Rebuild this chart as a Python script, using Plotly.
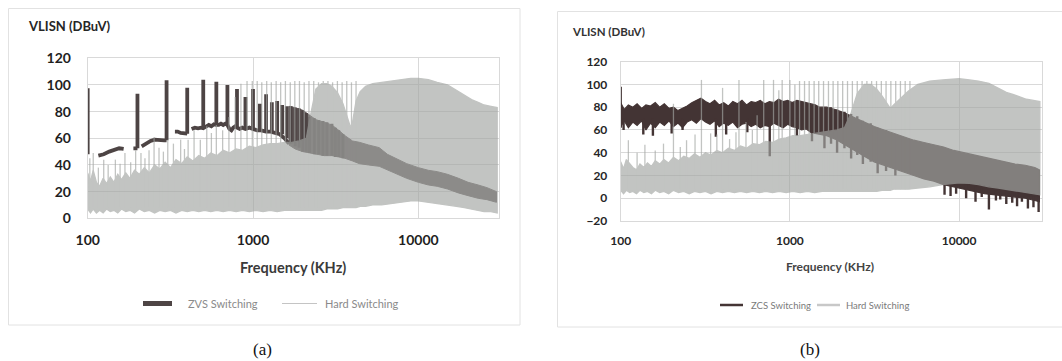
import plotly.graph_objects as go

# figure fills the whole 1062x361 window; the page body margin is removed after plotting
W, H = 1062, 361

# ---------------- Panel (a) data ----------------
HARD_A_F = [100, 104, 108, 113, 118, 124, 130, 137, 144, 152, 160, 170, 180, 192, 205, 220, 236, 254, 273, 294,
            317, 342, 370, 400, 433, 470, 510, 555, 605, 660, 720, 790, 865, 950, 1040, 1150, 1270, 1400, 1550,
            1720, 1900, 2100, 2250, 2400, 2600, 2800, 3000, 3250, 3500, 3700, 3850, 3950, 4050, 4200, 4450, 4800,
            5300, 6000, 7000, 8000, 9000, 10000, 11500, 13000, 15000, 17000, 19000, 21000, 23000, 25000, 27500, 30000]
HARD_A_HI = [34, 28, 36, 27, 24, 30, 26, 31, 27, 33, 29, 34, 30, 36, 33, 38, 34, 40, 37, 42,
             38, 44, 41, 46, 43, 47, 45, 49, 47, 51, 49, 52, 51, 54, 53, 55, 56, 56, 57,
             57, 58, 60, 80, 97, 101, 101, 99, 94, 86, 77, 70, 68, 75, 88, 95, 99,
             101, 102, 103, 104, 105, 105, 104, 102, 100, 96, 92, 89, 87, 85, 84, 83]
HARD_A_LO = [7, 4, 7, 4, 6, 4, 7, 5, 6, 4, 7, 5, 6, 4, 7, 5, 6, 4, 6, 5,
             6, 4, 6, 5, 6, 5, 6, 5, 6, 5, 6, 5, 6, 5, 6, 5, 6, 5, 6,
             6, 6, 6, 6, 6, 6, 7, 7, 7, 8, 8, 8, 8, 8, 8, 9, 9,
             10, 10, 11, 12, 13, 13, 12, 11, 10, 9, 8, 7, 6, 5, 5, 4]
HARD_A_SPK_F = [103, 108, 116, 125, 133, 147, 157, 168, 182, 195, 210, 222, 235, 252, 270, 287, 305, 330, 365,
                385, 405, 440, 480, 525, 560, 600, 655,
                715, 780, 845, 920, 990, 1060, 1130, 1210, 1290, 1380, 1470, 1570, 1680, 1790, 1910, 2040,
                2180, 2330, 2490, 2660, 2840, 3030, 3240, 3460, 3690, 3940, 4200]
HARD_A_SPK_TOP = [45, 49, 38, 44, 40, 44, 41, 49, 42, 51, 49, 45, 51, 61, 53, 50, 59, 56, 59,
                  52, 59, 66, 59, 69, 64, 70, 66,
                  76, 91, 101, 103, 103, 103, 102, 103, 102, 103, 102, 103, 102, 103, 103, 102,
                  103, 103, 102, 103, 103, 102, 103, 102, 103, 102, 103]
HARD_SPK_BASE = 8

ZVS_A_FLOOR_F = [116, 125, 135, 145, 155, 165, None, 189, 200, None, 212, 225, 240, 254, 270, 290, 300, None,
                 337, 350, 365, 382, 400, None, 425, 445, 465, 485, 500, 520, 540, 560, 580, 600, 620, 640, 660,
                 680, 700, 720, 740, 760, 780, 800, 830, 860, 900, 950, 1000, 1060, 1120, 1200, 1280, 1360,
                 1450, 1550, 1650]
ZVS_A_FLOOR_V = [47, 48, 50, 51.5, 52.5, 52, None, 52.5, 52.5, None, 54, 56, 58, 59, 58.5, 58.5, 58.5, None,
                 65, 65, 64, 63.5, 63.5, None, 67, 68, 67.5, 68, 67.5, 69, 70, 69, 70.5, 70, 70, 71, 70,
                 71, 70, 67, 66, 68, 69, 68, 67, 68, 67, 68, 67, 66, 66, 65, 65, 64,
                 63, 60, 56]
ZVS_A_SPK_F = [100, 200, 300, 400, 500, 600, 700, 800, 900, 1000, 1100, 1200, 1300, 1400, 1500, 1600]
ZVS_A_SPK_TOP = [97.5, 93.5, 103.5, 98, 104, 102.5, 100, 97, 91, 97, 86, 93, 87, 88, 85, 84]
ZVS_A_SPK_BASE = [48, 52.5, 58.5, 63.5, 67.5, 70, 70, 68, 67, 67, 66, 65, 64, 64, 63, 60]
ZVS_A_BAND_F = [1650, 1800, 2000, 2200, 2400, 2700, 3000, 3300, 3600, 4000, 4400, 5000, 5800, 6500, 7500,
                8500, 10000, 11500, 13000, 15000, 17500, 20000, 23000, 26000, 29700]
ZVS_A_BAND_HI = [84, 83, 81, 77, 74, 72, 70, 66, 62, 58, 57, 55, 53, 48, 44, 41, 38, 36, 35, 33, 30, 27, 25, 23, 20]
ZVS_A_BAND_LO = [55, 52, 50, 49, 48, 47, 47, 46, 45, 43, 41, 40, 39, 36, 33, 30, 27, 25, 24, 22, 19, 17, 15, 14, 12]
ZVS_A_COMB_F = [1700, 1800, 1900, 2000, 2100, 2200, 2350, 2500, 2650, 2800, 3000, 3150, 3300, 3500]
ZVS_A_COMB_TOP = [84, 83, 82.5, 81, 79, 76, 75, 73.5, 73, 72, 71, 68, 66, 63]
ZVS_A_COMB_LO = [56, 54, 53, 50, 50, 49, 48, 48, 47, 47, 47, 46, 46, 45]

# ---------------- Panel (b) data ----------------
HARD_B_F = [100, 104, 108, 113, 118, 124, 130, 137, 144, 152, 160, 170, 180, 192, 205, 220, 236, 254, 273, 294,
            317, 342, 370, 400, 433, 470, 510, 555, 605, 660, 720, 790, 865, 950, 1040, 1150, 1270, 1400, 1550,
            1720, 1900, 2100, 2300, 2500, 2750, 3000, 3250, 3500, 3750, 3920, 4100, 4500, 5000, 5700, 6700,
            8000, 10000, 11500, 13000, 15000, 17000, 19000, 21000, 23000, 25000, 27500, 30000]
HARD_B_HI = [32, 26, 34, 30, 27, 25, 30, 27, 31, 28, 33, 30, 34, 31, 36, 33, 37, 35, 39, 36,
             40, 38, 42, 40, 44, 42, 46, 44, 48, 47, 50, 49, 52, 53, 55, 55, 56, 57, 58,
             59, 60, 62, 75, 92, 100, 100, 96, 90, 83, 79, 82, 88, 94, 100, 103,
             104, 105, 104, 103, 101, 97, 93, 91, 89, 87, 86, 85]
HARD_B_LO = [7, 4, 7, 5, 6, 4, 7, 5, 6, 4, 7, 5, 6, 4, 7, 5, 6, 4, 6, 5,
             6, 4, 6, 5, 6, 5, 6, 5, 6, 5, 6, 5, 6, 5, 6, 5, 6, 5, 6,
             6, 6, 6, 6, 6, 6, 6, 6, 7, 7, 7, 8, 8, 8, 9, 10,
             12, 13.5, 13, 12, 10, 9, 8, 7, 6, 5, 4, 3]
HARD_B_SPK_F = [111, 125, 139, 160, 179, 205, 225, 245, 275, 300, 340, 370, 400, 440, 480, 500, 550, 600, 640,
                700, 800, 860, 900, 1000, 1070, 1140, 1220, 1300, 1390, 1480, 1580, 1690, 1800, 1920, 2050,
                2190, 2340, 2500, 2670, 2850, 3040, 3250, 3470, 3700, 3950, 4220, 4500, 4800, 5120]
HARD_B_SPK_TOP = [51, 40, 47, 42, 48, 83, 45, 51, 56, 104, 57, 56, 97, 52, 58, 104, 67, 60, 73,
                  104, 104, 95, 104, 104, 100, 103, 103, 103, 103, 103, 103, 103, 103, 103, 103,
                  103, 103, 103, 103, 103, 103, 103, 103, 103, 103, 103, 103, 103, 103]

ZCS_B_F = [100, 105, 111, 118, 125, 133, 141, 150, 160, 170, 181, 193, 205, 218, 232, 247, 263, 280, 298, 317,
           337, 359, 382, 406, 432, 460, 490, 521, 554, 590, 628, 668, 711, 757, 805, 857, 912, 970, 1032, 1100,
           1170, 1245, 1325, 1410, 1500, 1650, 1850, 2100, 2400, 2750, 3150, 3600, 4100, 4700, 5400, 6200,
           7100, 8100, 9300, 10700, 12300, 14100, 16200, 18600, 21400, 24600, 28000, 29800]
ZCS_B_HI = [84, 78, 82, 80, 83, 79, 82, 81, 84, 80, 83, 79, 80, 77, 79, 81, 84, 86, 88, 85,
            83, 86, 82, 84, 81, 85, 83, 86, 82, 85, 84, 86, 83, 85, 84, 87, 85, 86, 84, 86,
            85, 84, 83, 82, 80, 80, 78, 75, 71, 67, 63, 60, 57, 54, 51, 49,
            47, 45, 42, 40, 38, 36, 34, 32, 30, 29, 27, 25]
ZCS_B_LO = [63, 68, 62, 67, 64, 68, 60, 66, 62, 67, 64, 68, 63, 66, 62, 67, 69, 66, 70, 67,
            65, 68, 63, 66, 64, 67, 62, 65, 66, 63, 65, 62, 64, 63, 66, 64, 62, 65, 63, 62,
            60, 61, 58, 57, 56, 55, 52, 47, 42, 37, 32, 29, 26, 23, 20, 17,
            15, 12, 10, 8, 6, 4, 3, 2, 1, 0, -2, -3]
ZCS_B_LINE_F = [100, 104, 136, 155, 200, 232, 365, 420, 560, 760, 1100, 1350, 1600, 1750, 1900, 2100, 2300,
                2500, 2700, 3000, 3300, 3700, 4200, 8200, 8900, 9600, 11000, 12500, 13600, 15000, 16500, 17500,
                19000, 20600, 22000, 23500, 25500, 27500, 29500]
ZCS_B_LINE_LO = [62, 60, 56, 55, 57, 60, 54, 56, 58, 37, 55, 50, 44, 48, 40, 44, 35,
                 38, 30, 32, 22, 24, 20, 3, 2, 4, 0, -3, 1, -10, -2, -1,
                 -5, -4, -7, -3, -9, -8, -12]
ZCS_B_LINE_HI = [98, 70, 70, 70, 70, 70, 70, 70, 70, 70, 70, 70, 80, 80, 78, 76, 74,
                 72, 68, 66, 62, 60, 56, 15, 15, 14, 12, 10, 9, 8, 7, 6,
                 6, 5, 5, 4, 3, 2, 1]

X_TICKS = [100, 1000, 10000]
Y_TICKS_A = [0, 20, 40, 60, 80, 100, 120]
Y_TICKS_B = [-20, 0, 20, 40, 60, 80, 100, 120]

# ---------------- styles ----------------
HARD_COLOR = "rgb(163,166,163)"
HARD_OPACITY = 0.66
ZVS_COLOR = "rgb(78,69,69)"
ZVS_BAND_COLOR = "rgb(98,89,89)"
ZCS_COLOR = "rgb(68,53,53)"
GRID = "#d9d9d9"


def band_poly(f, hi, lo):
    return list(f) + list(f)[::-1] + [f[0]], list(hi) + list(lo)[::-1] + [hi[0]]


def vlines(fs, lo, hi):
    xs, ys = [], []
    for i, f in enumerate(fs):
        b = lo[i] if isinstance(lo, list) else lo
        xs += [f, f, None]
        ys += [b, hi[i], None]
    return xs, ys


def fx(p):  # page pixel -> paper fraction
    return p / W


def fy(p):
    return 1 - p / H


fig = go.Figure()

# ---- panel (a): ZVS (dark) first ----
bx, by = band_poly(ZVS_A_BAND_F, ZVS_A_BAND_HI, ZVS_A_BAND_LO)
fig.add_trace(go.Scatter(x=bx, y=by, mode="lines", fill="toself", fillcolor=ZVS_BAND_COLOR,
                         line=dict(color=ZVS_BAND_COLOR, width=1), xaxis="x", yaxis="y",
                         hoverinfo="skip", showlegend=False))
cx, cy = vlines(ZVS_A_COMB_F, ZVS_A_COMB_LO, ZVS_A_COMB_TOP)
fig.add_trace(go.Scatter(x=cx, y=cy, mode="lines", line=dict(color=ZVS_COLOR, width=3),
                         xaxis="x", yaxis="y", hoverinfo="skip", showlegend=False))
sx, sy = vlines(ZVS_A_SPK_F, ZVS_A_SPK_BASE, ZVS_A_SPK_TOP)
fig.add_trace(go.Scatter(x=ZVS_A_FLOOR_F + [None] + sx, y=ZVS_A_FLOOR_V + [None] + sy, mode="lines",
                         line=dict(color=ZVS_COLOR, width=3.8), xaxis="x", yaxis="y",
                         name="ZVS Switching", showlegend=False))
# ---- panel (a): hard switching (gray, on top, translucent) ----
px_, py_ = band_poly(HARD_A_F, HARD_A_HI, HARD_A_LO)
hx, hy = vlines(HARD_A_SPK_F, HARD_SPK_BASE, HARD_A_SPK_TOP)
fig.add_trace(go.Scatter(x=px_ + [None] + hx, y=py_ + [None] + hy, mode="lines", fill="toself",
                         fillcolor=HARD_COLOR, line=dict(color=HARD_COLOR, width=1.3), opacity=HARD_OPACITY,
                         xaxis="x", yaxis="y", name="Hard Switching", showlegend=False))

# ---- panel (b): ZCS (dark) ----
bx, by = band_poly(ZCS_B_F, ZCS_B_HI, ZCS_B_LO)
fig.add_trace(go.Scatter(x=bx, y=by, mode="lines", fill="toself", fillcolor=ZCS_COLOR,
                         line=dict(color=ZCS_COLOR, width=1.2), xaxis="x2", yaxis="y2",
                         name="ZCS Switching", showlegend=False))
lx, ly = vlines(ZCS_B_LINE_F, ZCS_B_LINE_LO, ZCS_B_LINE_HI)
fig.add_trace(go.Scatter(x=lx, y=ly, mode="lines", line=dict(color=ZCS_COLOR, width=2.4),
                         xaxis="x2", yaxis="y2", hoverinfo="skip", showlegend=False))
px_, py_ = band_poly(HARD_B_F, HARD_B_HI, HARD_B_LO)
hx, hy = vlines(HARD_B_SPK_F, HARD_SPK_BASE, HARD_B_SPK_TOP)
fig.add_trace(go.Scatter(x=px_ + [None] + hx, y=py_ + [None] + hy, mode="lines", fill="toself",
                         fillcolor=HARD_COLOR, line=dict(color=HARD_COLOR, width=1.3), opacity=HARD_OPACITY,
                         xaxis="x2", yaxis="y2", name="Hard Switching", showlegend=False))

axis_common = dict(type="log", range=[2, 4.488], tickvals=X_TICKS, ticktext=[str(v) for v in X_TICKS],
                   showgrid=True, gridcolor=GRID, gridwidth=1, showline=True, linecolor=GRID, mirror=True,
                   zeroline=False, ticks="", automargin=False)
yaxis_common = dict(showgrid=True, gridcolor=GRID, gridwidth=1, showline=True, linecolor=GRID, mirror=True,
                    zeroline=False, ticks="", automargin=False)

fig.update_layout(
    template="none",
    width=W, height=H, autosize=False,
    margin=dict(l=0, r=0, t=0, b=0, pad=0),
    paper_bgcolor="white", plot_bgcolor="white",
    showlegend=False,
    xaxis=dict(axis_common, domain=[fx(87.7), fx(499)], anchor="y", ticklabelstandoff=9,
               tickfont=dict(family="Lato", size=14, color="#1f1f1f", weight="bold")),
    yaxis=dict(yaxis_common, domain=[fy(218.3), fy(58.3)], range=[0, 120], tickvals=Y_TICKS_A, anchor="x",
               ticklabelstandoff=13, tickfont=dict(family="Lato", size=14, color="#1f1f1f", weight="bold")),
    xaxis2=dict(axis_common, domain=[fx(620.7), fx(1041.7)], anchor="y2", ticklabelstandoff=9,
                tickfont=dict(family="Lato", size=12, color="#262626", weight="bold")),
    yaxis2=dict(yaxis_common, domain=[fy(221), fy(61.7)], range=[-20, 120], tickvals=Y_TICKS_B, anchor="x2",
                ticklabelstandoff=10, tickfont=dict(family="Lato", size=12, color="#262626", weight="bold")),
)

# panel frames
fig.add_shape(type="rect", xref="paper", yref="paper", x0=fx(8.5), x1=fx(520), y0=fy(325), y1=fy(8.5),
              line=dict(color="#e2e2e2", width=1), layer="below")
fig.add_shape(type="rect", xref="paper", yref="paper", x0=fx(557.5), x1=fx(1080), y0=fy(327), y1=fy(11.5),
              line=dict(color="#e2e2e2", width=1), layer="below")


def ann(text, x, y, size, color="#333", xanchor="center", family="Lato", weight="normal"):
    fig.add_annotation(text=text, xref="paper", yref="paper", x=fx(x), y=fy(y), xanchor=xanchor,
                       yanchor="middle", showarrow=False,
                       font=dict(family=family, size=size, color=color, weight=weight))


# titles
ann("VLISN (DBuV)", 26, 26, 13, "#262626", "left", weight="bold")
ann("VLISN (DBuV)", 570, 31.5, 11.5, "#333", "left", weight="bold")
ann("Frequency (KHz)", 292.5, 267.5, 14.5, "#3a3a3a", weight="bold")
ann("Frequency (KHz)", 830, 266.5, 12, "#444", weight="bold")

# legends
fig.add_shape(type="line", xref="paper", yref="paper", x0=fx(143), x1=fx(172), y0=fy(303.5), y1=fy(303.5),
              line=dict(color=ZVS_COLOR, width=5))
ann("ZVS Switching", 186, 303.5, 11, "#8a8a8a", "left")
fig.add_shape(type="line", xref="paper", yref="paper", x0=fx(282), x1=fx(317), y0=fy(303.5), y1=fy(303.5),
              line=dict(color="#c4c4c4", width=1.2))
ann("Hard Switching", 323, 303.5, 11, "#8a8a8a", "left")

fig.add_shape(type="line", xref="paper", yref="paper", x0=fx(720), x1=fx(743), y0=fy(305), y1=fy(305),
              line=dict(color=ZCS_COLOR, width=2.5))
ann("ZCS Switching", 749, 305, 9.5, "#7a7a7a", "left")
fig.add_shape(type="line", xref="paper", yref="paper", x0=fx(817), x1=fx(840), y0=fy(305), y1=fy(305),
              line=dict(color="#c8c8c8", width=2.5))
ann("Hard Switching", 844, 305, 9.5, "#7a7a7a", "left")

# captions
ann("(a)", 262, 349, 17, "#111", family="Liberation Serif")
ann("(b)", 810, 349, 17, "#111", family="Liberation Serif")

fig.write_html("out.html", config={"displayModeBar": False},
               post_script="document.body.style.margin='0';")
